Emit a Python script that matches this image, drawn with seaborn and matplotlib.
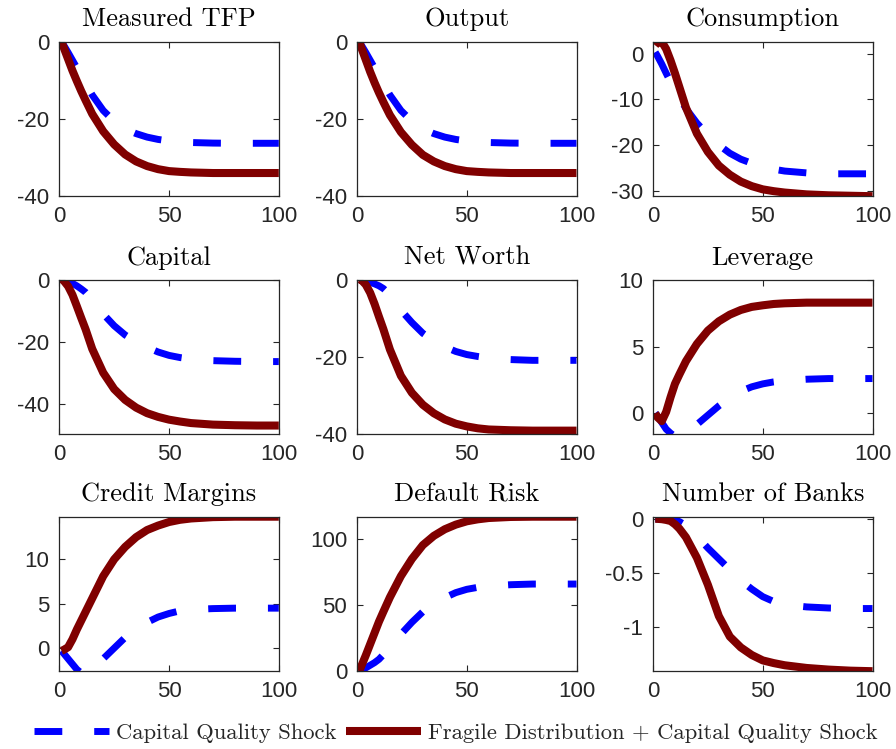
import numpy as np
import pandas as pd
import matplotlib
matplotlib.use("Agg")
import matplotlib.pyplot as plt
from matplotlib.ticker import FuncFormatter
from matplotlib.lines import Line2D
import seaborn as sns

# ---------------- data ----------------
T = [1, 2, 4, 6, 8, 10, 12, 15, 20, 25, 30, 35, 40, 45, 50, 55, 60, 70, 80, 90, 100]

titles = ["Measured TFP", "Output", "Consumption",
          "Capital", "Net Worth", "Leverage",
          "Credit Margins", "Default Risk", "Number of Banks"]

tfp_cq = [0, -0.9, -2.8, -4.8, -6.8, -8.8, -10.8, -13.8, -17.8, -20.6, -22.6, -23.8, -24.7, -25.3, -25.7, -25.95, -26.1, -26.25, -26.3, -26.3, -26.3]
tfp_fd = [0, -1.5, -4.5, -7.5, -10.2, -12.8, -15.2, -18.7, -23.2, -26.6, -29.2, -31.0, -32.2, -33.0, -33.5, -33.7, -33.85, -34.0, -34.0, -34.0, -34.0]

out_cq = [0, -0.9, -2.8, -4.8, -6.8, -8.8, -10.8, -13.8, -17.8, -20.6, -22.6, -23.8, -24.7, -25.3, -25.7, -25.95, -26.1, -26.25, -26.3, -26.3, -26.3]
out_fd = [0, -1.6, -4.7, -7.8, -10.6, -13.2, -15.6, -19.0, -23.4, -26.7, -29.3, -31.0, -32.2, -33.0, -33.5, -33.7, -33.85, -34.0, -34.0, -34.0, -34.0]

con_cq = [0.3, -0.5, -2.3, -4.3, -6.2, -8.0, -9.6, -12.0, -15.2, -17.8, -20.0, -21.8, -23.1, -24.0, -24.7, -25.3, -25.7, -26.1, -26.3, -26.3, -26.3]
con_fd = [1.8, 2.4, 2.6, 1.0, -1.5, -4.3, -7.3, -11.8, -17.5, -21.5, -24.5, -26.5, -28.0, -29.0, -29.7, -30.1, -30.4, -30.8, -31.0, -31.1, -31.2]

cap_cq = [0, -0.1, -0.5, -1.1, -1.9, -2.9, -4.0, -6.3, -11.0, -14.8, -17.8, -20.0, -21.8, -23.3, -24.4, -25.1, -25.6, -26.1, -26.3, -26.4, -26.4]
cap_fd = [0.3, -0.2, -2.0, -4.8, -8.5, -12.3, -16.0, -22.3, -30.0, -35.3, -38.8, -41.3, -43.1, -44.3, -45.2, -45.8, -46.3, -46.8, -47.0, -47.1, -47.1]

nw_cq = [0, -0.05, -0.25, -0.6, -1.0, -1.5, -2.2, -3.8, -7.8, -11.0, -13.8, -15.8, -17.3, -18.5, -19.3, -19.8, -20.2, -20.6, -20.8, -20.8, -20.8]
nw_fd = [0.2, 0, -1.2, -3.3, -6.2, -9.5, -12.7, -18.0, -24.8, -29.2, -32.3, -34.5, -36.1, -37.2, -37.9, -38.4, -38.7, -38.9, -39.0, -39.0, -39.0]

lev_cq = [0, -0.2, -0.7, -1.2, -1.5, -1.75, -1.85, -1.6, -0.85, -0.15, 0.55, 1.15, 1.65, 1.98, 2.2, 2.35, 2.45, 2.55, 2.6, 2.6, 2.6]
lev_fd = [0, -0.3, -0.6, 0.1, 1.2, 2.2, 2.9, 3.9, 5.2, 6.2, 6.9, 7.4, 7.75, 7.98, 8.1, 8.2, 8.25, 8.3, 8.3, 8.3, 8.3]

cm_cq = [-0.3, -0.6, -1.2, -1.8, -2.4, -2.8, -3.0, -2.6, -1.2, 0.0, 1.2, 2.1, 2.9, 3.5, 3.9, 4.2, 4.35, 4.45, 4.5, 4.5, 4.5]
cm_fd = [-0.3, -0.2, 0.1, 1.0, 2.1, 3.1, 4.1, 5.6, 8.1, 10.0, 11.4, 12.5, 13.3, 13.8, 14.2, 14.45, 14.6, 14.75, 14.8, 14.8, 14.8]

dr_cq = [0, 1.0, 2.5, 4.5, 6.5, 9.0, 12.5, 18.0, 28.0, 37.0, 45.0, 51.0, 55.7, 59.5, 62.0, 63.5, 64.5, 65.5, 66.0, 66.0, 66.0]
dr_fd = [0, 4.0, 12.0, 20.5, 29.0, 37.5, 45.0, 56.0, 72.0, 85.0, 95.5, 102.5, 107.5, 111.0, 113.5, 115.0, 116.0, 116.8, 117.0, 117.0, 117.0]

nb_cq = [0, 0, 0, -0.002, -0.005, -0.012, -0.025, -0.06, -0.16, -0.27, -0.37, -0.47, -0.57, -0.65, -0.72, -0.765, -0.795, -0.815, -0.825, -0.83, -0.83]
nb_fd = [0, 0, -0.003, -0.01, -0.02, -0.05, -0.09, -0.17, -0.36, -0.61, -0.90, -1.09, -1.19, -1.26, -1.31, -1.335, -1.355, -1.38, -1.395, -1.405, -1.41]

series_cq = [tfp_cq, out_cq, con_cq, cap_cq, nw_cq, lev_cq, cm_cq, dr_cq, nb_cq]
series_fd = [tfp_fd, out_fd, con_fd, cap_fd, nw_fd, lev_fd, cm_fd, dr_fd, nb_fd]

ylims = [(-40, 0), (-40, 0), (-31.2, 2.6), (-50, 0), (-40, 0), (-1.6, 10),
         (-2.6, 14.8), (0, 117), (-1.41, 0.02)]
yticks = [[-40, -20, 0], [-40, -20, 0], [-30, -20, -10, 0], [-40, -20, 0], [-40, -20, 0],
          [0, 5, 10], [0, 5, 10], [0, 50, 100], [-1, -0.5, 0]]
xticks = [0, 50, 100]

legend_labels = ["Capital Quality Shock", "Fragile Distribution + Capital Quality Shock"]

# ---------------- style ----------------
sns.set_theme(style="ticks")
plt.rcParams["font.family"] = ["Liberation Sans", "DejaVu Sans"]
plt.rcParams["axes.unicode_minus"] = False
plt.rcParams["lines.scale_dashes"] = True

BLUE = "#0000ff"
RED = "#800000"
FRAME = "#262626"
DASH = (0, (4.0, 4.6))

fig = plt.figure(figsize=(8.96, 7.49), dpi=100)

lefts = [59.3, 357.0, 653.0]
tops = [41.7, 280.0, 516.7]
W, H = 219.5, 154.5
FW, FH = 896.0, 749.0

for i in range(9):
    r, c = divmod(i, 3)
    ax = fig.add_axes([lefts[c] / FW, 1 - (tops[r] + H) / FH, W / FW, H / FH])
    ax.set_facecolor("white")
    df = pd.DataFrame({"t": T, "cq": series_cq[i], "fd": series_fd[i]})
    sns.lineplot(data=df, x="t", y="cq", ax=ax, color=BLUE, linewidth=5.0,
                 estimator=None, sort=False)
    bl = ax.lines[-1]
    bl.set_linestyle(DASH)
    bl.set_dash_capstyle("butt")
    sns.lineplot(data=df, x="t", y="fd", ax=ax, color=RED, linewidth=5.8,
                 estimator=None, sort=False)
    ax.lines[-1].set_solid_capstyle("butt")
    ax.set_xlim(0, 100)
    ax.set_ylim(*ylims[i])
    ax.set_xticks(xticks)
    ax.set_yticks(yticks[i])
    ax.yaxis.set_major_formatter(FuncFormatter(lambda v, p: "%g" % v))
    ax.set_xlabel("")
    ax.set_ylabel("")
    for s in ax.spines.values():
        s.set_visible(True)
        s.set_color(FRAME)
        s.set_linewidth(0.9)
    ax.tick_params(direction="in", length=4, width=0.8, color=FRAME,
                   top=True, right=True, labelsize=16, labelcolor=FRAME, pad=7)
    ax.set_title(titles[i], fontfamily="cmr10", fontsize=19, pad=11, color="black")
    ax.grid(False)

handles = [Line2D([], [], color=BLUE, linewidth=5.0, linestyle=DASH, dash_capstyle="butt"),
           Line2D([], [], color=RED, linewidth=5.8, solid_capstyle="butt")]
leg = fig.legend(handles, legend_labels, loc="center", bbox_to_anchor=(456 / FW, 1 - 733 / FH),
                 ncol=2, frameon=False, handlelength=3.3, handletextpad=0.31,
                 columnspacing=0.44, prop={"family": "cmr10", "size": 16.3})

fig.savefig("out.png", dpi=100)
